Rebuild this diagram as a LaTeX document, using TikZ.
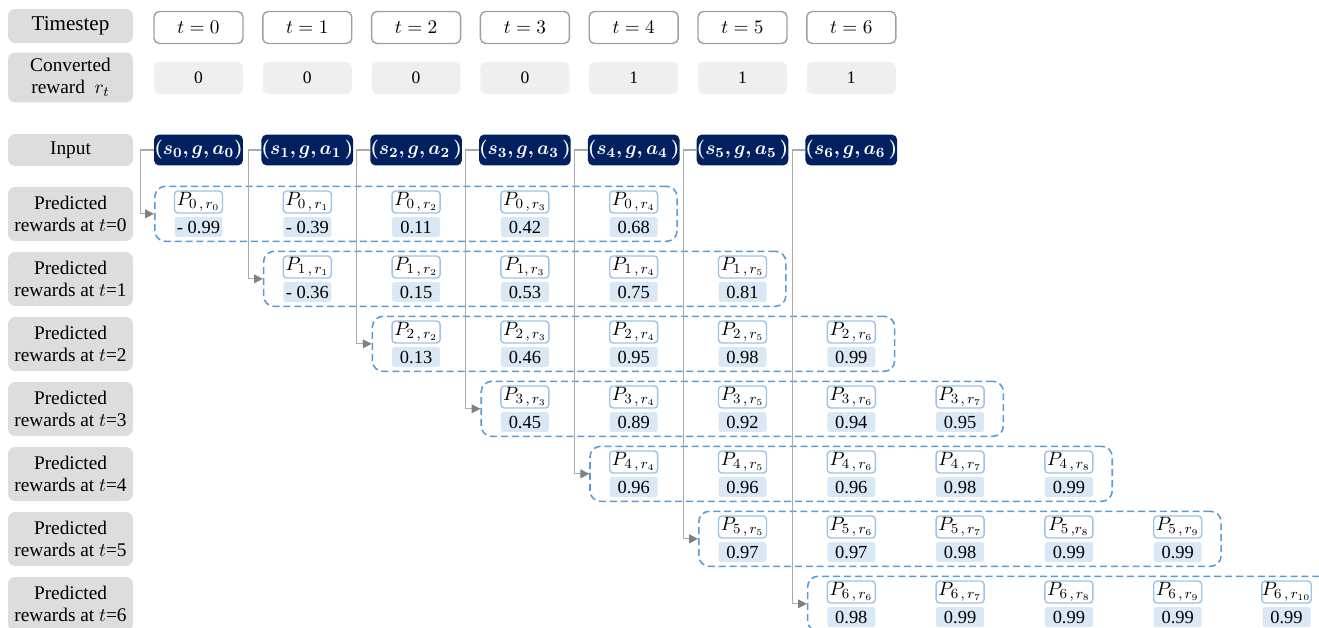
\documentclass[tikz,border=0pt]{standalone}
\usepackage{amsmath}
\usepackage{bm}
\usepackage{fontspec}
\setmainfont{Liberation Serif}
\usetikzlibrary{arrows.meta, fit}
\definecolor{navy}{RGB}{0,32,96}
\definecolor{lblgray}{RGB}{221,221,221}
\definecolor{cellgray}{RGB}{239,239,239}
\definecolor{pblue}{RGB}{157,195,230}
\definecolor{vblue}{RGB}{218,232,246}
\definecolor{dashblue}{RGB}{91,155,213}
\definecolor{linegray}{RGB}{170,170,170}

\begin{document}
\begin{tikzpicture}[
  x=0.02cm, y=-0.02cm,
  lbl/.style={fill=lblgray, rounded corners=4pt, minimum width=2.5cm, align=center, inner sep=1pt, font=\fontsize{11}{12.5}\selectfont},
  cell/.style={rounded corners=3pt, minimum width=1.78cm, minimum height=0.64cm, inner sep=0pt, font=\fontsize{11}{13}\selectfont},
  tcell/.style={cell, draw=gray!75, fill=white, line width=0.8pt},
  rcell/.style={cell, fill=cellgray, font=\fontsize{10}{12}\selectfont},
  incell/.style={cell, fill=navy, text=white, minimum height=0.62cm, font=\fontsize{11}{13}\selectfont},
  pcell/.style={draw=pblue, fill=white, rounded corners=2pt, line width=0.8pt, minimum width=0.96cm, minimum height=0.44cm, inner sep=0pt, font=\fontsize{11}{13}\selectfont},
  vcell/.style={fill=vblue, rounded corners=1pt, minimum width=0.96cm, minimum height=0.40cm, inner sep=0pt, font=\fontsize{10.5}{12}\selectfont},
  grp/.style={draw=dashblue, dash pattern=on 4pt off 2.2pt, line width=0.9pt, rounded corners=6pt, inner xsep=0.38cm, inner ysep=0.08cm},
  feed/.style={draw=linegray, line width=0.6pt, -{Triangle[length=5pt, width=5pt, color=gray]}},
]
\clip (0,0) rectangle (1319,628);

% Row labels
\node[lbl, minimum height=0.68cm, font=\fontsize{12}{14}\selectfont] (l-time) at (70.5,26) {Timestep};
\node[lbl, minimum height=1.0cm] (l-conv) at (70.5,77.5) {Converted\\reward\ \ $r_t$};
\node[lbl, minimum height=0.64cm] (l-in) at (70.5,150) {Input};
\node[lbl, minimum height=1.08cm] (l-p0) at (70.5,214) {Predicted\\rewards at $t$=0};
\node[lbl, minimum height=1.08cm] (l-p1) at (70.5,279) {Predicted\\rewards at $t$=1};
\node[lbl, minimum height=1.08cm] (l-p2) at (70.5,344) {Predicted\\rewards at $t$=2};
\node[lbl, minimum height=1.08cm] (l-p3) at (70.5,409) {Predicted\\rewards at $t$=3};
\node[lbl, minimum height=1.08cm] (l-p4) at (70.5,474) {Predicted\\rewards at $t$=4};
\node[lbl, minimum height=1.08cm] (l-p5) at (70.5,539) {Predicted\\rewards at $t$=5};
\node[lbl, minimum height=1.08cm] (l-p6) at (70.5,604) {Predicted\\rewards at $t$=6};

% Timesteps
\node[tcell] (t0) at (198.5,27.5) {$t=0$};
\node[tcell] (t1) at (307.3,27.5) {$t=1$};
\node[tcell] (t2) at (416.1,27.5) {$t=2$};
\node[tcell] (t3) at (524.9,27.5) {$t=3$};
\node[tcell] (t4) at (633.7,27.5) {$t=4$};
\node[tcell] (t5) at (742.5,27.5) {$t=5$};
\node[tcell] (t6) at (851.3,27.5) {$t=6$};

% Converted rewards
\node[rcell] (r0) at (198.5,78) {0};
\node[rcell] (r1) at (307.3,78) {0};
\node[rcell] (r2) at (416.1,78) {0};
\node[rcell] (r3) at (524.9,78) {0};
\node[rcell] (r4) at (633.7,78) {1};
\node[rcell] (r5) at (742.5,78) {1};
\node[rcell] (r6) at (851.3,78) {1};

% Inputs
\node[incell] (in0) at (198.5,150) {$\bm{(s_0, g, a_0)}$};
\node[incell] (in1) at (307.3,150) {$\bm{(s_1, g, a_1\,)}$};
\node[incell] (in2) at (416.1,150) {$\bm{(s_2, g, a_2\,)}$};
\node[incell] (in3) at (524.9,150) {$\bm{(s_3, g, a_3\,)}$};
\node[incell] (in4) at (633.7,150) {$\bm{(s_4, g, a_4\,)}$};
\node[incell] (in5) at (742.5,150) {$\bm{(s_5, g, a_5\,)}$};
\node[incell] (in6) at (851.3,150) {$\bm{(s_6, g, a_6\,)}$};

% Predicted rewards at t=0
\node[pcell] (p0-r0) at (198.5,202) {$P_{0\,,\,r_0}$}; \node[vcell] (v0-r0) at (198.5,227) {- 0.99};
\node[pcell] (p0-r1) at (307.3,202) {$P_{0\,,\,r_1}$}; \node[vcell] (v0-r1) at (307.3,227) {- 0.39};
\node[pcell] (p0-r2) at (416.1,202) {$P_{0\,,\,r_2}$}; \node[vcell] (v0-r2) at (416.1,227) {0.11};
\node[pcell] (p0-r3) at (524.9,202) {$P_{0\,,\,r_3}$}; \node[vcell] (v0-r3) at (524.9,227) {0.42};
\node[pcell] (p0-r4) at (633.7,202) {$P_{0\,,\,r_4}$}; \node[vcell] (v0-r4) at (633.7,227) {0.68};

% Predicted rewards at t=1
\node[pcell] (p1-r1) at (307.3,267) {$P_{1\,,\,r_1}$}; \node[vcell] (v1-r1) at (307.3,292) {- 0.36};
\node[pcell] (p1-r2) at (416.1,267) {$P_{1\,,\,r_2}$}; \node[vcell] (v1-r2) at (416.1,292) {0.15};
\node[pcell] (p1-r3) at (524.9,267) {$P_{1,\,r_3}$};   \node[vcell] (v1-r3) at (524.9,292) {0.53};
\node[pcell] (p1-r4) at (633.7,267) {$P_{1\,,\,r_4}$}; \node[vcell] (v1-r4) at (633.7,292) {0.75};
\node[pcell] (p1-r5) at (742.5,267) {$P_{1\,,\,r_5}$}; \node[vcell] (v1-r5) at (742.5,292) {0.81};

% Predicted rewards at t=2
\node[pcell] (p2-r2) at (416.1,332) {$P_{2\,,\,r_2}$}; \node[vcell] (v2-r2) at (416.1,357) {0.13};
\node[pcell] (p2-r3) at (524.9,332) {$P_{2\,,\,r_3}$}; \node[vcell] (v2-r3) at (524.9,357) {0.46};
\node[pcell] (p2-r4) at (633.7,332) {$P_{2\,,\,r_4}$}; \node[vcell] (v2-r4) at (633.7,357) {0.95};
\node[pcell] (p2-r5) at (742.5,332) {$P_{2\,,\,r_5}$}; \node[vcell] (v2-r5) at (742.5,357) {0.98};
\node[pcell] (p2-r6) at (851.3,332) {$P_{2\,,\,r_6}$}; \node[vcell] (v2-r6) at (851.3,357) {0.99};

% Predicted rewards at t=3
\node[pcell] (p3-r3) at (524.9,397) {$P_{3\,,\,r_3}$}; \node[vcell] (v3-r3) at (524.9,422) {0.45};
\node[pcell] (p3-r4) at (633.7,397) {$P_{3\,,\,r_4}$}; \node[vcell] (v3-r4) at (633.7,422) {0.89};
\node[pcell] (p3-r5) at (742.5,397) {$P_{3\,,\,r_5}$}; \node[vcell] (v3-r5) at (742.5,422) {0.92};
\node[pcell] (p3-r6) at (851.3,397) {$P_{3\,,\,r_6}$}; \node[vcell] (v3-r6) at (851.3,422) {0.94};
\node[pcell] (p3-r7) at (960.1,397) {$P_{3\,,\,r_7}$}; \node[vcell] (v3-r7) at (960.1,422) {0.95};

% Predicted rewards at t=4
\node[pcell] (p4-r4) at (633.7,462) {$P_{4\,,\,r_4}$}; \node[vcell] (v4-r4) at (633.7,487) {0.96};
\node[pcell] (p4-r5) at (742.5,462) {$P_{4\,,\,r_5}$}; \node[vcell] (v4-r5) at (742.5,487) {0.96};
\node[pcell] (p4-r6) at (851.3,462) {$P_{4\,,\,r_6}$}; \node[vcell] (v4-r6) at (851.3,487) {0.96};
\node[pcell] (p4-r7) at (960.1,462) {$P_{4\,,\,r_7}$}; \node[vcell] (v4-r7) at (960.1,487) {0.98};
\node[pcell] (p4-r8) at (1068.9,462) {$P_{4\,,\,r_8}$}; \node[vcell] (v4-r8) at (1068.9,487) {0.99};

% Predicted rewards at t=5
\node[pcell] (p5-r5) at (742.5,527) {$P_{5\,,\,r_5}$}; \node[vcell] (v5-r5) at (742.5,552) {0.97};
\node[pcell] (p5-r6) at (851.3,527) {$P_{5\,,\,r_6}$}; \node[vcell] (v5-r6) at (851.3,552) {0.97};
\node[pcell] (p5-r7) at (960.1,527) {$P_{5\,,\,r_7}$}; \node[vcell] (v5-r7) at (960.1,552) {0.98};
\node[pcell] (p5-r8) at (1068.9,527) {$P_{5\,,r_8}$}; \node[vcell] (v5-r8) at (1068.9,552) {0.99};
\node[pcell] (p5-r9) at (1177.7,527) {$P_{5\,,\,r_9}$}; \node[vcell] (v5-r9) at (1177.7,552) {0.99};

% Predicted rewards at t=6
\node[pcell] (p6-r6) at (851.3,592) {$P_{6\,,\,r_6}$}; \node[vcell] (v6-r6) at (851.3,617) {0.98};
\node[pcell] (p6-r7) at (960.1,592) {$P_{6\,,\,r_7}$}; \node[vcell] (v6-r7) at (960.1,617) {0.99};
\node[pcell] (p6-r8) at (1068.9,592) {$P_{6\,,\,r_8}$}; \node[vcell] (v6-r8) at (1068.9,617) {0.99};
\node[pcell] (p6-r9) at (1177.7,592) {$P_{6\,,\,r_9}$}; \node[vcell] (v6-r9) at (1177.7,617) {0.99};
\node[pcell] (p6-r10) at (1286.5,592) {$P_{6\,,\,r_{10}}$}; \node[vcell] (v6-r10) at (1286.5,617) {0.99};

% Dashed groups
\node[grp, fit=(p0-r0)(v0-r4)] (g0) {};
\node[grp, fit=(p1-r1)(v1-r5)] (g1) {};
\node[grp, fit=(p2-r2)(v2-r6)] (g2) {};
\node[grp, fit=(p3-r3)(v3-r7)] (g3) {};
\node[grp, fit=(p4-r4)(v4-r8)] (g4) {};
\node[grp, fit=(p5-r5)(v5-r9)] (g5) {};
\node[grp, fit=(p6-r6)(v6-r10)] (g6) {};

% Inputs feed each prediction step
\draw[feed] (in0.west) -- ++(-13,0) |- (g0.west);
\draw[feed] (in1.west) -- ++(-13,0) |- (g1.west);
\draw[feed] (in2.west) -- ++(-13,0) |- (g2.west);
\draw[feed] (in3.west) -- ++(-13,0) |- (g3.west);
\draw[feed] (in4.west) -- ++(-13,0) |- (g4.west);
\draw[feed] (in5.west) -- ++(-13,0) |- (g5.west);
\draw[feed] (in6.west) -- ++(-13,0) |- (g6.west);

\end{tikzpicture}
\end{document}
